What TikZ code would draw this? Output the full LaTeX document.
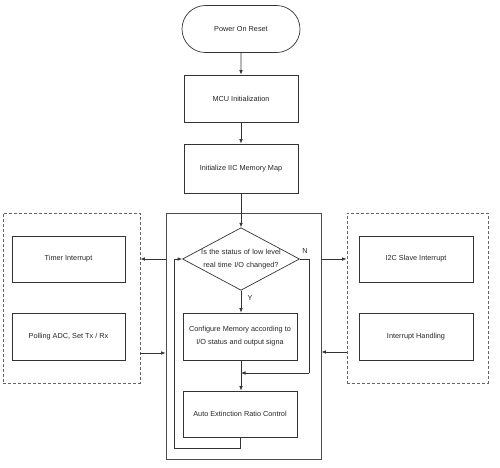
\documentclass[tikz,border=0pt]{standalone}
\usepackage{fontspec}
\setmainfont{Liberation Sans}
\usetikzlibrary{shapes.misc,shapes.geometric,arrows.meta}
\tikzset{
  ln/.style={draw=black!80, line width=0.7pt},
  arr/.style={ln, -{Latex[length=4.5pt,width=3.5pt]}},
  box/.style={ln, rectangle, minimum width=114pt, minimum height=47pt, inner sep=0pt, align=center, font=\fontsize{7.3}{13}\selectfont, text=black!85},
  dbox/.style={draw=black!60, line width=0.7pt, dashed, dash pattern=on 3pt off 2pt, rectangle, inner sep=0pt},
  cbox/.style={draw=black!70, line width=0.7pt, rectangle, inner sep=0pt},
  lbl/.style={font=\fontsize{7.3}{9}\selectfont, text=black!85, inner sep=0pt}
}
\begin{document}
\begin{tikzpicture}[x=1pt,y=-1pt]
\useasboundingbox (0,0) rectangle (500,467);
% top chain
\node[box, rounded rectangle, minimum width=118pt] (por) at (241,29) {Power On Reset};
\node[box] (mcu) at (241,98.5) {MCU Initialization};
\node[box, minimum height=49pt] (iic) at (241,168.5) {Initialize IIC Memory Map};
% containers
\node[cbox, minimum width=155pt, minimum height=246pt] (ctr) at (243.5,336) {};
\node[dbox, minimum width=137pt, minimum height=170pt] (lft) at (71.5,298) {};
\node[dbox, minimum width=141pt, minimum height=170pt] (rgt) at (417.5,298) {};
% decision
\node[ln, diamond, shape aspect=1.87, inner sep=0pt, text width=80pt, align=center, font=\fontsize{7.3}{13}\selectfont, text=black!85] (dia) at (241,259) {Is the status of low level\\real time I/O changed?};
\node[box] (cfg) at (240,336.5) {Configure Memory according to\\I/O status and output signa};
\node[box, minimum height=46pt] (auto) at (240,414) {Auto Extinction Ratio Control};
% side boxes
\node[box, minimum width=113pt, minimum height=46pt] (timer) at (68.5,259) {Timer Interrupt};
\node[box, minimum width=113pt] (poll) at (68.5,336.5) {Polling ADC, Set Tx / Rx};
\node[box, minimum height=46pt] (i2c) at (416,259) {I2C Slave Interrupt};
\node[box] (ih) at (416,336.5) {Interrupt Handling};
% labels
\node[lbl] (nl) at (305,251) {N};
\node[lbl] (yl) at (250,298) {Y};
% coordinates
\coordinate (j) at (241,373);
\coordinate (nr) at (309,259);
\coordinate (nb) at (309,373);
\coordinate (lb) at (240,448);
\coordinate (ll) at (174,448);
\coordinate (lt) at (174,259);
% connectors
\draw[arr] (por) -- (mcu);
\draw[arr] (mcu) -- (iic);
\draw[arr] (iic) -- (dia.north);
\draw[arr] (dia.south) -- (cfg.north -| dia.south);
\draw[ln] (cfg.south -| j) -- (j);
\draw[arr] (j) -- (auto.north -| j);
\draw[ln] (dia.east) -- (nr) -- (nb);
\draw[arr] (nb) -- (j);
\draw[ln] (auto.south) -- (lb) -- (ll) -- (lt);
\draw[arr] (lt) -- (dia.west);
\draw[arr] (ctr.west |- 0,259) -- (lft.east |- 0,259);
\draw[arr] (lft.east |- 0,353) -- (ctr.west |- 0,353);
\draw[arr] (ctr.east |- 0,259) -- (rgt.west |- 0,259);
\draw[arr] (rgt.west |- 0,352) -- (ctr.east |- 0,352);
\end{tikzpicture}
\end{document}
